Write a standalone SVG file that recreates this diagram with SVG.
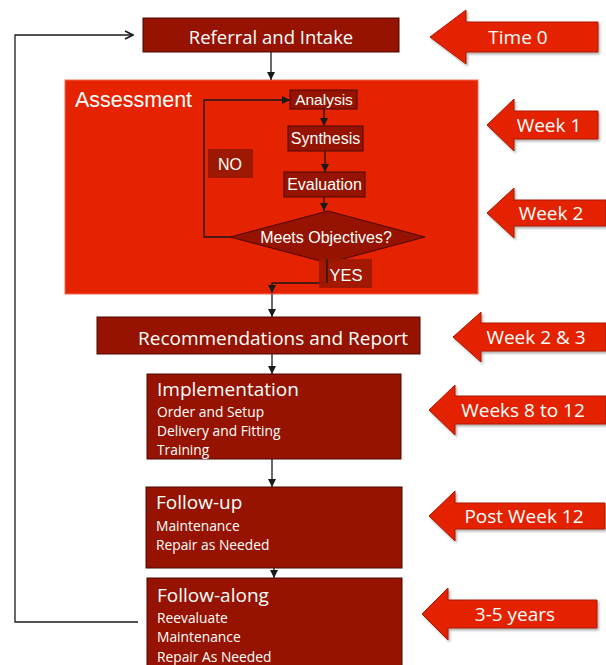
<svg xmlns="http://www.w3.org/2000/svg" width="606" height="665" viewBox="0 0 606 665">
<style>
.dk{fill:#951300;stroke:#4a0800;stroke-width:1}
.lbl{fill:#9c1800}
.cal{font-family:"Open Sans","Liberation Sans",sans-serif;fill:#fff}
.hel{font-family:"Liberation Sans",Arial,sans-serif;fill:#fff}
.tl{fill:#e42200;stroke:#a81800;stroke-width:1}
.con{fill:none;stroke:#1a1a1a;stroke-width:1.3}
</style>
<defs>
<marker id="ah" viewBox="0 0 10 10" refX="10" refY="5" markerWidth="8" markerHeight="8" markerUnits="userSpaceOnUse" orient="auto">
<path d="M0,0 L10,5 L0,10 Z" fill="#1a1a1a"/>
</marker>
<marker id="oh" viewBox="0 0 10 10" refX="9" refY="5" markerWidth="10" markerHeight="10" markerUnits="userSpaceOnUse" orient="auto">
<path d="M1,1 L9,5 L1,9" fill="none" stroke="#1a1a1a" stroke-width="1.8"/>
</marker>
<filter id="sh" x="-10%" y="-10%" width="125%" height="130%">
<feDropShadow dx="1.5" dy="2" stdDeviation="1.2" flood-color="#000" flood-opacity="0.3"/>
</filter>
</defs>

<g id="assessment">
<rect x="65" y="80" width="413" height="214" fill="#e62300" stroke="#f06a50" stroke-width="1"/>
<text class="hel" x="75" y="107" font-size="21.5">Assessment</text>
</g>

<g id="connectors">
<path class="con" d="M271,52 V80" marker-end="url(#ah)"/>
<path class="con" d="M324,109 V126" marker-end="url(#ah)"/>
<path class="con" d="M325,151 V172" marker-end="url(#ah)"/>
<path class="con" d="M324,197 V211" marker-end="url(#ah)"/>
<path class="con" d="M230,237 H204 V100 H290" marker-end="url(#ah)"/>
<path class="con" d="M327,263 V283 H272 V293" marker-end="url(#ah)"/>
<path class="con" d="M272,294 V317" marker-end="url(#ah)"/>
<path class="con" d="M272,354 V374" marker-end="url(#ah)"/>
<path class="con" d="M272,459 V487" marker-end="url(#ah)"/>
<path class="con" d="M274,568 V578" marker-end="url(#ah)"/>
<path class="con" d="M138,622 H15 V35 H133" marker-end="url(#oh)"/>
</g>

<g id="referral">
<rect class="dk" x="143" y="18" width="256" height="34"/>
<text class="cal" x="271" y="43.5" font-size="18.5" text-anchor="middle">Referral and Intake</text>
</g>

<g id="analysis">
<rect class="dk" x="290" y="90" width="67" height="19"/>
<text class="hel" x="324" y="105" font-size="15.5" text-anchor="middle">Analysis</text>
</g>
<g id="synthesis">
<rect class="dk" x="288" y="126" width="75" height="25"/>
<text class="hel" x="325.5" y="144" font-size="16" text-anchor="middle">Synthesis</text>
</g>
<g id="evaluation">
<rect class="dk" x="284" y="172" width="81" height="25"/>
<text class="hel" x="324.5" y="190" font-size="16" text-anchor="middle">Evaluation</text>
</g>
<g id="decision">
<polygon class="dk" points="230,237 328,211 425,237 328,263"/>
<text class="hel" x="326" y="243" font-size="16" text-anchor="middle">Meets Objectives?</text>
</g>
<g id="no">
<rect class="lbl" x="208" y="149" width="45" height="29"/>
<text class="hel" x="230" y="170" font-size="16" text-anchor="middle">NO</text>
</g>
<g id="yes">
<rect class="lbl" x="319" y="259" width="53" height="29" opacity="0.92"/>
<path class="con" d="M327,259 V283"/>
<text class="hel" x="346" y="281" font-size="16.5" text-anchor="middle">YES</text>
</g>

<g id="recommendations">
<rect class="dk" x="97" y="317" width="323" height="37"/>
<text class="cal" x="273" y="345" font-size="19" text-anchor="middle">Recommendations and Report</text>
</g>

<g id="implementation">
<rect class="dk" x="147" y="374" width="254" height="85"/>
<text class="cal" x="157" y="396" font-size="19">Implementation</text>
<text class="cal" x="157" y="417" font-size="13.8">Order and Setup</text>
<text class="cal" x="157" y="436" font-size="13.8">Delivery and Fitting</text>
<text class="cal" x="157" y="455" font-size="13.8">Training</text>
</g>

<g id="followup">
<rect class="dk" x="146" y="487" width="256" height="81"/>
<text class="cal" x="156" y="509" font-size="19">Follow-up</text>
<text class="cal" x="156" y="531" font-size="13.8">Maintenance</text>
<text class="cal" x="156" y="550" font-size="13.8">Repair as Needed</text>
</g>

<g id="followalong">
<rect class="dk" x="147" y="578" width="255" height="95"/>
<text class="cal" x="157" y="602" font-size="19">Follow-along</text>
<text class="cal" x="157" y="623" font-size="13.8">Reevaluate</text>
<text class="cal" x="157" y="642" font-size="13.8">Maintenance</text>
<text class="cal" x="157" y="662" font-size="13.8">Repair As Needed</text>
</g>

<g id="t-time0">
<polygon class="tl" filter="url(#sh)" points="430,37 466,10 466,22 598,22 598,52 466,52 466,64"/>
<text class="cal" x="518" y="43.5" font-size="19" text-anchor="middle">Time 0</text>
</g>
<g id="t-week1">
<polygon class="tl" filter="url(#sh)" points="487,125 514,99 514,111 598,111 598,139 514,139 514,151"/>
<text class="cal" x="549" y="131.5" font-size="19" text-anchor="middle">Week 1</text>
</g>
<g id="t-week2">
<polygon class="tl" filter="url(#sh)" points="487,213 514,188 514,200 606,200 606,226 514,226 514,238"/>
<text class="cal" x="551" y="219.5" font-size="19" text-anchor="middle">Week 2</text>
</g>
<g id="t-week23">
<polygon class="tl" filter="url(#sh)" points="453,337 481,312 481,323 606,323 606,351 481,351 481,362"/>
<text class="cal" x="536" y="343.5" font-size="19" text-anchor="middle">Week 2 &amp; 3</text>
</g>
<g id="t-week812">
<polygon class="tl" filter="url(#sh)" points="429,410 455,385 455,396 606,396 606,424 455,424 455,435"/>
<text class="cal" x="523" y="416.5" font-size="19" text-anchor="middle">Weeks 8 to 12</text>
</g>
<g id="t-post12">
<polygon class="tl" filter="url(#sh)" points="429,516 455,491 455,503 605,503 605,529 455,529 455,541"/>
<text class="cal" x="524" y="522.5" font-size="19" text-anchor="middle">Post Week 12</text>
</g>
<g id="t-years">
<polygon class="tl" filter="url(#sh)" points="422,614 448,588 448,600 597,600 597,628 448,628 448,640"/>
<text class="cal" x="515" y="620.5" font-size="19" text-anchor="middle">3-5 years</text>
</g>
</svg>
